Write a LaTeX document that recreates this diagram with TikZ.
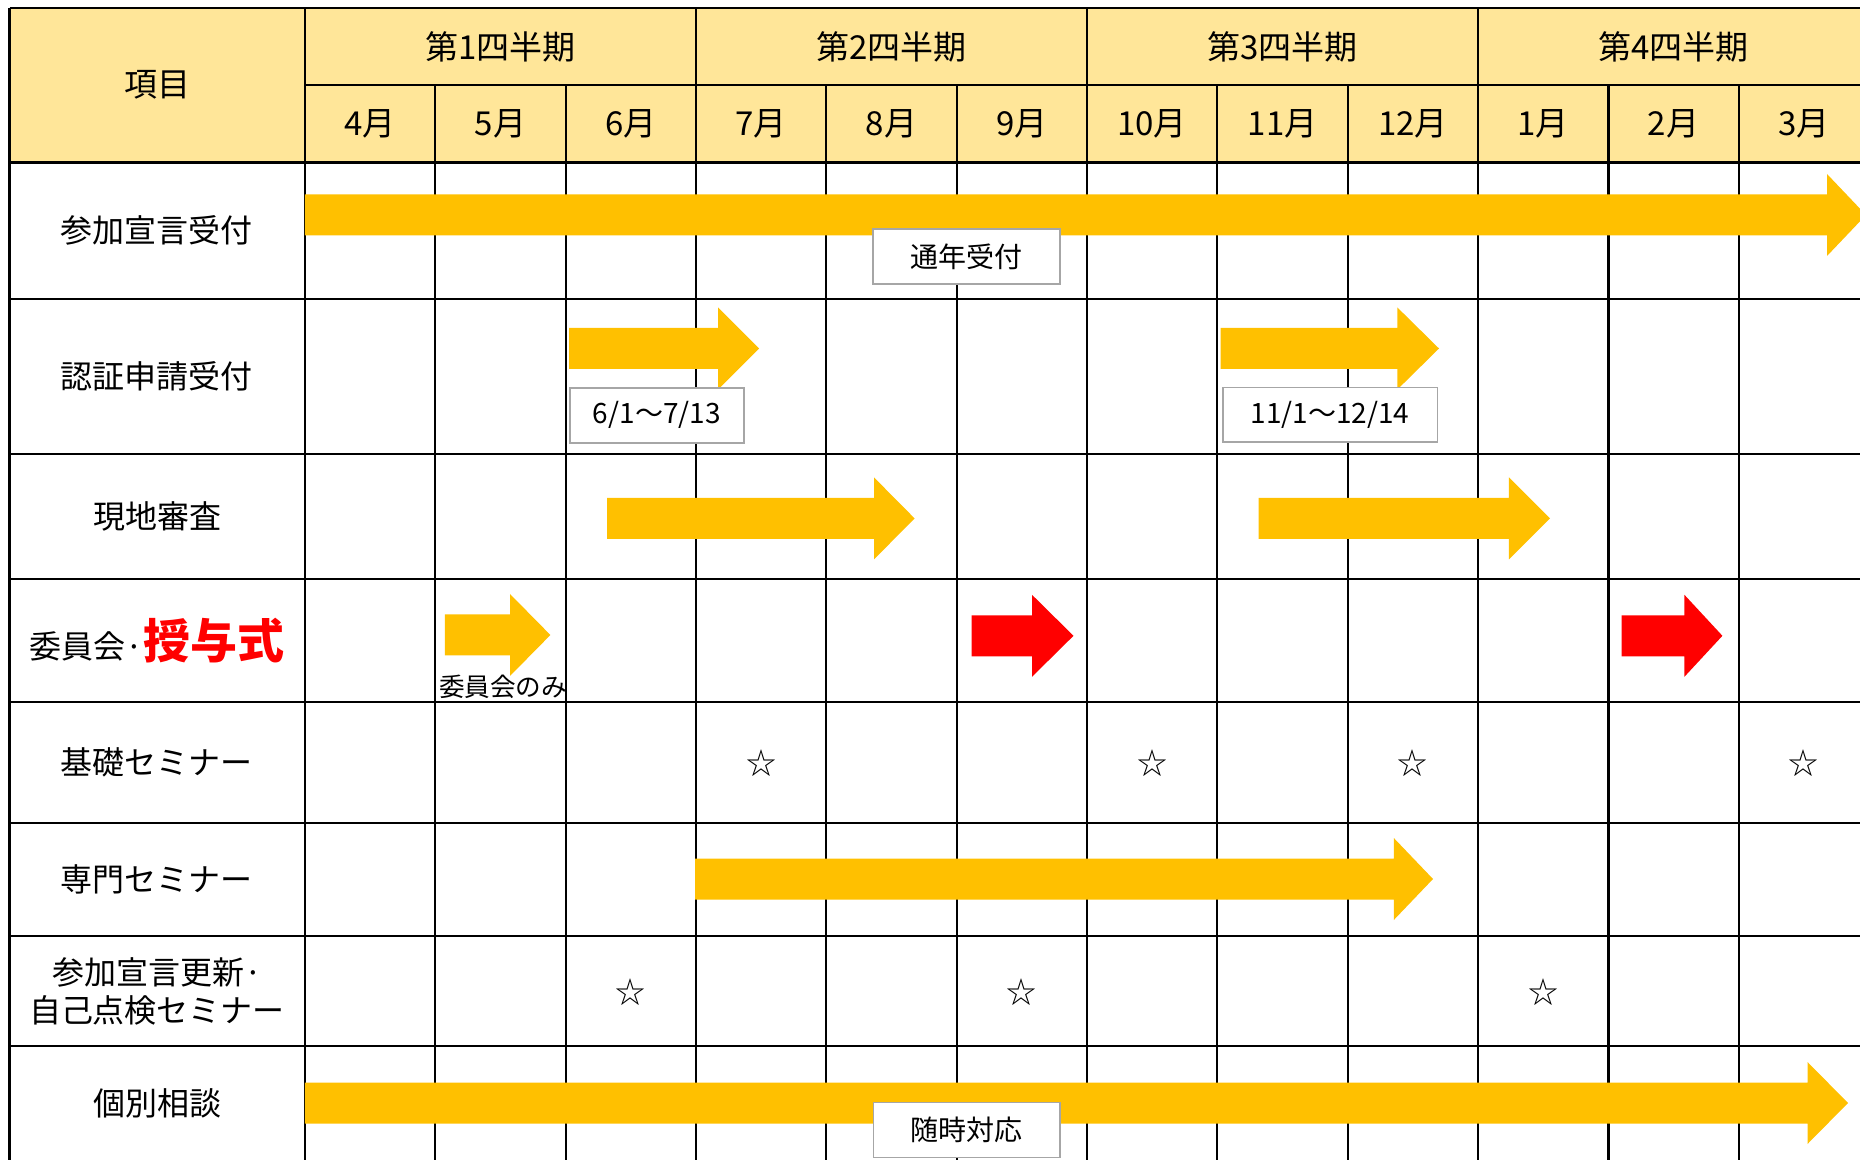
\documentclass[tikz,border=0pt]{standalone}
\usepackage{fontspec}
\setmainfont{Noto Sans CJK JP}
\usepackage{tikz}
\usetikzlibrary{positioning}
\definecolor{headBody}{HTML}{FFE699}
\definecolor{barBody}{HTML}{FFC000}
\definecolor{noteBorder}{HTML}{A6A6A6}
\tikzstyle{rule} = [line width=1.1pt, draw=black]
\tikzstyle{head} = [font=\fontsize{16.5}{19}\selectfont, inner sep=0pt]
\tikzstyle{item} = [font=\fontsize{16}{19}\selectfont, align=center, inner sep=0pt]
\tikzstyle{note} = [draw=noteBorder, line width=0.8pt, fill=white, inner sep=0pt,
        anchor=north west, font=\fontsize{14}{17}\selectfont]
\tikzstyle{starmark} = [font=\fontsize{15}{17}\selectfont, inner sep=0pt]
\newcommand{\bararrow}[5]{%
  \fill[#1] (#2,#5-20.5) -- (#3,#5-20.5) -- (#3,#5-41) -- (#4,#5)
    -- (#3,#5+41) -- (#3,#5+20.5) -- (#2,#5+20.5) -- cycle;}

\begin{document}
\begin{tikzpicture}[x=0.5pt, y=-0.5pt]
    \useasboundingbox (0,0) rectangle (1860,1160);
    \fill[headBody] (9.5,8.3) rectangle (1875,162.5);

    \draw[rule] (9.5,8.3) -- (1875,8.3);
    \draw[rule] (304.9,85.4) -- (1875,85.4);
    \foreach \y in {162.5,298.9,454.3,578.9,702.2,823.2,935.9,1046.2}
        \draw[rule] (9.5,\y) -- (1875,\y);
    \draw[rule] (9.5,8.3) -- (9.5,1175);
    \foreach \i in {0,3,6,9}
        \draw[rule] ({304.9+130.35*\i},8.3) -- ({304.9+130.35*\i},1175);
    \foreach \i in {1,2,4,5,7,8,10,11}
        \draw[rule] ({304.9+130.35*\i},85.4) -- ({304.9+130.35*\i},1175);

    \node[head] (item) at (157,85) {項目};
    \foreach \q [count=\i from 0] in {1,2,3,4}
        \node[head] (q\q) at ({304.9+130.35*(3*\i+1.5)},47) {第\q 四半期};
    \foreach \m [count=\i from 0] in {4,...,12,1,2,3}
        \node[head] (m\m) at ({304.9+130.35*(\i+0.5)},124) {\m 月};

    \node[item] (entry) at (157,230.7) {参加宣言受付};
    \node[item] (apply) at (157,376.6) {認証申請受付};
    \node[item] (audit) at (157,516.6) {現地審査};
    \node[item] (award) at (157,640.5) {委員会·{\color{red}\fontsize{23.5}{26}\selectfont\bfseries 授与式}};
    \node[item] (basic) at (157,762.7) {基礎セミナー};
    \node[item] (expert) at (157,879.5) {専門セミナー};
    \node[item] (renew) at (157,991) {参加宣言更新·\\自己点検セミナー};
    \node[item] (consult) at (157,1103) {個別相談};

    \bararrow{barBody}{304.9}{1827}{1866}{215}
    \bararrow{barBody}{569}{718}{759}{348.5}
    \bararrow{barBody}{1220.6}{1397.4}{1439}{348.5}
    \bararrow{barBody}{607}{874}{914.6}{518.4}
    \bararrow{barBody}{1258.6}{1508.9}{1550}{518.4}
    \bararrow{barBody}{444.8}{510}{550.4}{635}
    \bararrow{red}{971.5}{1032}{1073.5}{635.8}
    \bararrow{red}{1621.6}{1684.4}{1722.4}{635.8}
    \bararrow{barBody}{695.1}{1393.8}{1433}{879}
    \bararrow{barBody}{304.9}{1807.5}{1848}{1103}

    \node[note, minimum width=93.5pt, minimum height=27.75pt] (yearround) at (872,228) {通年受付};
    \node[note, minimum width=87pt, minimum height=27.5pt] (firstterm) at (569,387) {6/1〜7/13};
    \node[note, minimum width=107.25pt, minimum height=27.3pt] (secondterm) at (1222,386.7) {11/1〜12/14};
    \node[note, minimum width=93.25pt, minimum height=27.5pt] (anytime) at (872.5,1101.7) {随時対応};
    \node[inner sep=0pt, font=\fontsize{12.8}{15}\selectfont] (committee) at (503,687) {委員会のみ};

    \foreach \i in {3,6,8,11}
        \node[starmark] (basic\i) at ({304.9+130.35*(\i+0.5)},762.7) {☆};
    \foreach \i in {2,5,9}
        \node[starmark] (renew\i) at ({304.9+130.35*(\i+0.5)},991.7) {☆};
\end{tikzpicture}
\end{document}
